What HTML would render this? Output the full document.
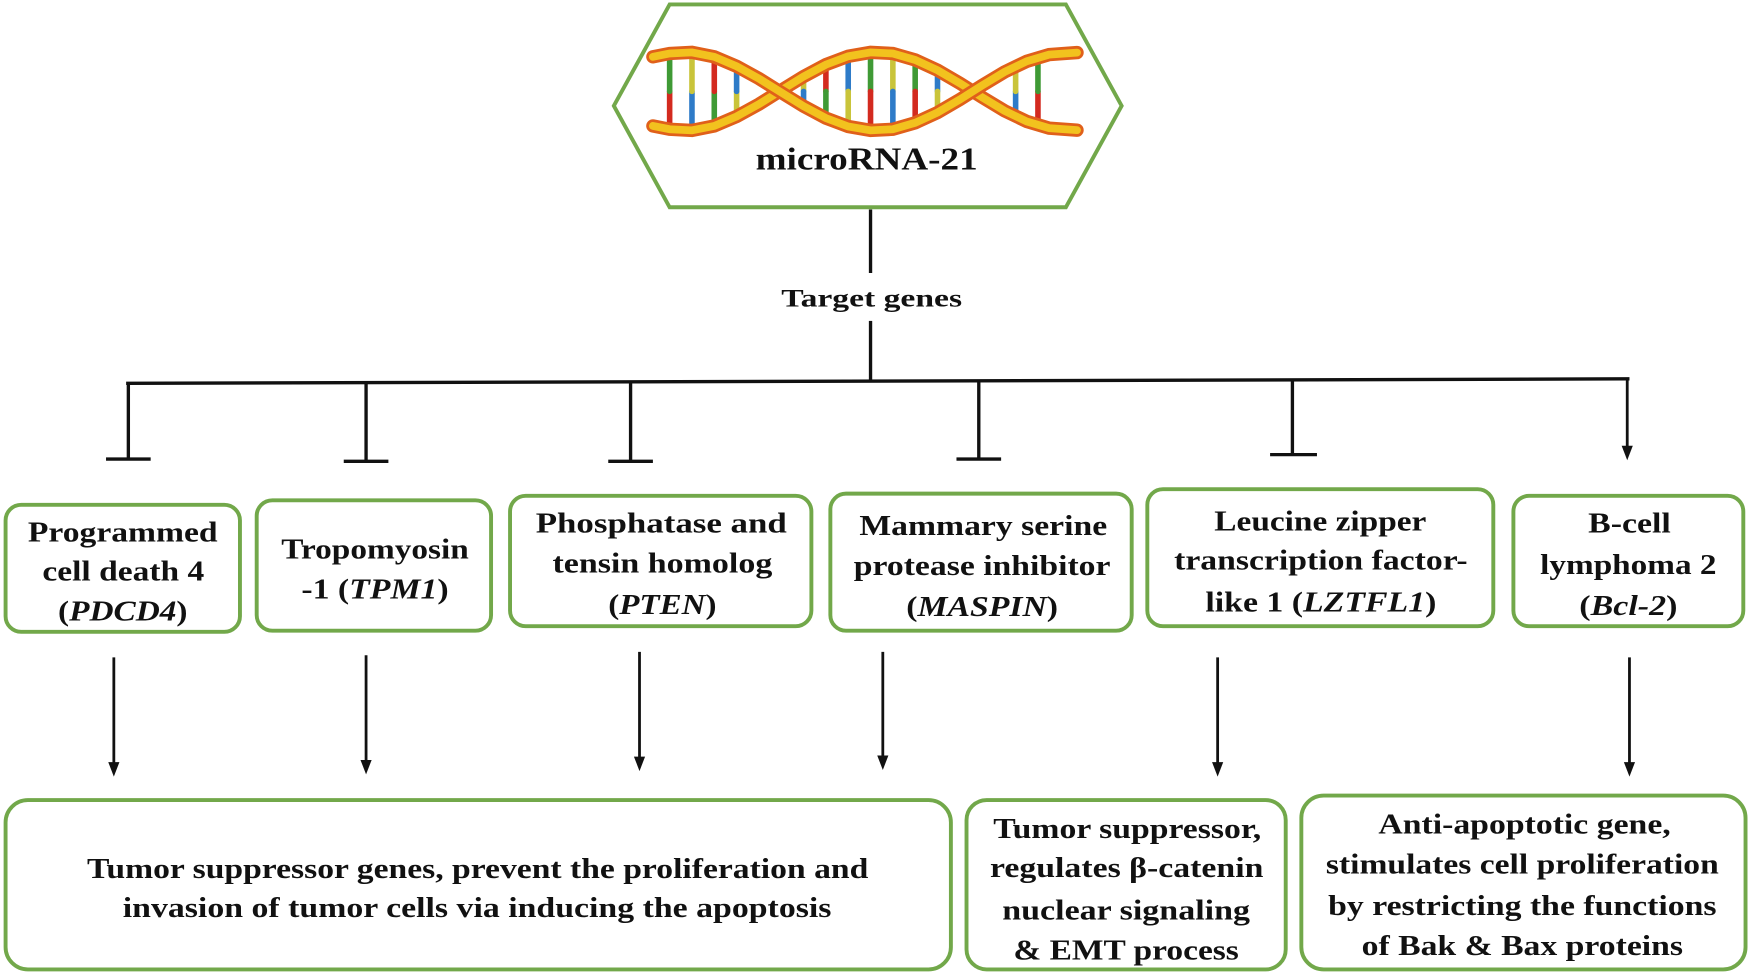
<!DOCTYPE html>
<html><head><meta charset="utf-8"><style>
html,body{margin:0;padding:0;background:#fff;}
svg{display:block;}
text{font-family:"Liberation Serif","Times New Roman","DejaVu Serif",serif;font-weight:bold;fill:#111;}
</style></head><body>
<svg width="1750" height="975" viewBox="0 0 1568 875" preserveAspectRatio="none" xmlns="http://www.w3.org/2000/svg">
<g fill="none" stroke="#72a84a" stroke-width="3.5">
<polygon points="550,95 600,4 955,4 1005,95 955,186 600,186" fill="#fff"/>
<rect x="5" y="453" width="210" height="114" rx="14"/>
<rect x="230" y="449" width="210" height="117" rx="14"/>
<rect x="457" y="445" width="270" height="117" rx="14"/>
<rect x="744" y="443" width="270" height="123" rx="14"/>
<rect x="1028" y="439" width="310" height="123" rx="14"/>
<rect x="1356" y="445" width="206" height="117" rx="14"/>
<rect x="5" y="718" width="847" height="152" rx="20"/>
<rect x="866" y="718" width="286" height="152" rx="18"/>
<rect x="1166" y="714" width="398" height="156" rx="20"/>
</g>
<!-- DNA -->
<g fill="none" stroke-linecap="round">
<g stroke-width="5">
<line x1="600" y1="116" x2="600" y2="82" stroke="#d32a1f"/><line x1="600" y1="82" x2="600" y2="48" stroke="#3f9a35"/>
<line x1="620" y1="117" x2="620" y2="82" stroke="#2e7bc8"/><line x1="620" y1="82" x2="620" y2="47" stroke="#c9c43a"/>
<line x1="640" y1="113" x2="640" y2="82" stroke="#3f9a35"/><line x1="640" y1="82" x2="640" y2="51" stroke="#d32a1f"/>
<line x1="660" y1="104" x2="660" y2="82" stroke="#c9c43a"/><line x1="660" y1="82" x2="660" y2="60" stroke="#2e7bc8"/>
<line x1="720" y1="69" x2="720" y2="82" stroke="#c9c43a"/><line x1="720" y1="82" x2="720" y2="95" stroke="#2e7bc8"/>
<line x1="740" y1="58" x2="740" y2="82" stroke="#d32a1f"/><line x1="740" y1="82" x2="740" y2="106" stroke="#3f9a35"/>
<line x1="760" y1="50" x2="760" y2="82" stroke="#2e7bc8"/><line x1="760" y1="82" x2="760" y2="113" stroke="#c9c43a"/>
<line x1="780" y1="47" x2="780" y2="82" stroke="#3f9a35"/><line x1="780" y1="82" x2="780" y2="117" stroke="#d32a1f"/>
<line x1="800" y1="48" x2="800" y2="82" stroke="#c9c43a"/><line x1="800" y1="82" x2="800" y2="116" stroke="#2e7bc8"/>
<line x1="820" y1="54" x2="820" y2="82" stroke="#3f9a35"/><line x1="820" y1="82" x2="820" y2="110" stroke="#d32a1f"/>
<line x1="840" y1="63" x2="840" y2="82" stroke="#2e7bc8"/><line x1="840" y1="82" x2="840" y2="101" stroke="#c9c43a"/>
<line x1="910" y1="104" x2="910" y2="82" stroke="#2e7bc8"/><line x1="910" y1="82" x2="910" y2="60" stroke="#c9c43a"/>
<line x1="930" y1="113" x2="930" y2="82" stroke="#d32a1f"/><line x1="930" y1="82" x2="930" y2="51" stroke="#3f9a35"/>
</g>
<polyline points="585,113 600,116 620,117 640,113 660,104.5 680,93.5 700,81 720,68.7 740,58 760,50.5 780,47 800,48 820,53.8 840,63 860,74.7 880,87.3 900,99.4 920,109 940,115 965,116.8" stroke="#e0601a" stroke-width="12"/>
<polyline points="585,113 600,116 620,117 640,113 660,104.5 680,93.5 700,81 720,68.7 740,58 760,50.5 780,47 800,48 820,53.8 840,63 860,74.7 880,87.3 900,99.4 920,109 940,115 965,116.8" stroke="#f2c21e" stroke-width="7"/>
<polyline points="585,51 600,48 620,47 640,51 660,59.5 680,70.5 700,83 720,95.3 740,106 760,113.5 780,117 800,116 820,110.2 840,101 860,89.3 880,76.7 900,64.6 920,55 940,49 965,47.2" stroke="#e0601a" stroke-width="12"/>
<polyline points="585,51 600,48 620,47 640,51 660,59.5 680,70.5 700,83 720,95.3 740,106 760,113.5 780,117 800,116 820,110.2 840,101 860,89.3 880,76.7 900,64.6 920,55 940,49 965,47.2" stroke="#f2c21e" stroke-width="7"/>
</g>
<!-- connectors -->
<g stroke="#111" stroke-width="3" fill="none">
<line x1="780" y1="188" x2="780" y2="245"/>
<line x1="780" y1="288" x2="780" y2="343"/>
<line x1="113" y1="344" x2="1460" y2="340"/>
<line x1="115" y1="344" x2="115" y2="412"/><line x1="95" y1="412" x2="135" y2="412"/>
<line x1="328" y1="343" x2="328" y2="414"/><line x1="308" y1="414" x2="348" y2="414"/>
<line x1="565" y1="342" x2="565" y2="414"/><line x1="545" y1="414" x2="585" y2="414"/>
<line x1="877" y1="342" x2="877" y2="412"/><line x1="857" y1="412" x2="897" y2="412"/>
<line x1="1158" y1="341" x2="1158" y2="408"/><line x1="1138" y1="408" x2="1180" y2="408"/>
</g>
<g stroke="#111" stroke-width="2.5">
<line x1="1458" y1="340" x2="1458" y2="402"/>
<line x1="102" y1="590" x2="102" y2="686"/>
<line x1="328" y1="588" x2="328" y2="684"/>
<line x1="573" y1="585" x2="573" y2="681"/>
<line x1="791" y1="585" x2="791" y2="680"/>
<line x1="1091" y1="590" x2="1091" y2="686"/>
<line x1="1460" y1="590" x2="1460" y2="686"/>
</g>
<g fill="#111">
<polygon points="1453,400 1463,400 1458,413"/>
<polygon points="97,684 107,684 102,697"/>
<polygon points="323,682 333,682 328,695"/>
<polygon points="568,679 578,679 573,692"/>
<polygon points="786,678 796,678 791,691"/>
<polygon points="1086,684 1096,684 1091,697"/>
<polygon points="1455,684 1465,684 1460,697"/>
</g>
<g lengthAdjust="spacingAndGlyphs">
<text x="677" y="152" font-size="28" textLength="199" lengthAdjust="spacingAndGlyphs">microRNA-21</text>
<text x="700" y="275" font-size="23" textLength="162" lengthAdjust="spacingAndGlyphs">Target genes</text>
</g>
<g font-size="26">
<text x="25" y="486" textLength="170" lengthAdjust="spacingAndGlyphs">Programmed</text>
<text x="38" y="521" textLength="145" lengthAdjust="spacingAndGlyphs">cell death 4</text>
<text x="52" y="557" textLength="116" lengthAdjust="spacingAndGlyphs">(<tspan font-style="italic">PDCD4</tspan>)</text>
<text x="252" y="501" textLength="168" lengthAdjust="spacingAndGlyphs">Tropomyosin</text>
<text x="270" y="537" textLength="132" lengthAdjust="spacingAndGlyphs">-1 (<tspan font-style="italic">TPM1</tspan>)</text>
<text x="480" y="478" textLength="225" lengthAdjust="spacingAndGlyphs">Phosphatase  and</text>
<text x="495" y="514" textLength="197" lengthAdjust="spacingAndGlyphs">tensin homolog</text>
<text x="545" y="551" textLength="97" lengthAdjust="spacingAndGlyphs">(<tspan font-style="italic">PTEN</tspan>)</text>
<text x="770" y="480" textLength="222" lengthAdjust="spacingAndGlyphs">Mammary serine</text>
<text x="765" y="516" textLength="230" lengthAdjust="spacingAndGlyphs">protease inhibitor</text>
<text x="812" y="553" textLength="136" lengthAdjust="spacingAndGlyphs">(<tspan font-style="italic">MASPIN</tspan>)</text>
<text x="1088" y="476" textLength="190" lengthAdjust="spacingAndGlyphs">Leucine zipper</text>
<text x="1052" y="511" textLength="263" lengthAdjust="spacingAndGlyphs">transcription factor-</text>
<text x="1080" y="549" textLength="207" lengthAdjust="spacingAndGlyphs">like 1 (<tspan font-style="italic">LZTFL1</tspan>)</text>
<text x="1423" y="478" textLength="74" lengthAdjust="spacingAndGlyphs">B-cell</text>
<text x="1380" y="515" textLength="158" lengthAdjust="spacingAndGlyphs">lymphoma 2</text>
<text x="1415" y="552" textLength="88" lengthAdjust="spacingAndGlyphs">(<tspan font-style="italic">Bcl-2</tspan>)</text>
<text x="78" y="788" textLength="700" lengthAdjust="spacingAndGlyphs">Tumor suppressor genes, prevent the proliferation and</text>
<text x="110" y="823" textLength="635" lengthAdjust="spacingAndGlyphs">invasion of tumor cells via inducing the apoptosis</text>
<text x="890" y="752" textLength="240" lengthAdjust="spacingAndGlyphs">Tumor suppressor,</text>
<text x="887" y="787" textLength="245" lengthAdjust="spacingAndGlyphs">regulates β-catenin</text>
<text x="898" y="825" textLength="222" lengthAdjust="spacingAndGlyphs">nuclear signaling</text>
<text x="908" y="861" textLength="202" lengthAdjust="spacingAndGlyphs">&amp; EMT process</text>
<text x="1235" y="748" textLength="262" lengthAdjust="spacingAndGlyphs">Anti-apoptotic gene,</text>
<text x="1188" y="784" textLength="352" lengthAdjust="spacingAndGlyphs">stimulates cell proliferation</text>
<text x="1190" y="821" textLength="348" lengthAdjust="spacingAndGlyphs">by restricting the functions</text>
<text x="1220" y="857" textLength="288" lengthAdjust="spacingAndGlyphs">of Bak &amp; Bax proteins</text>
</g>
</svg>
</body></html>
